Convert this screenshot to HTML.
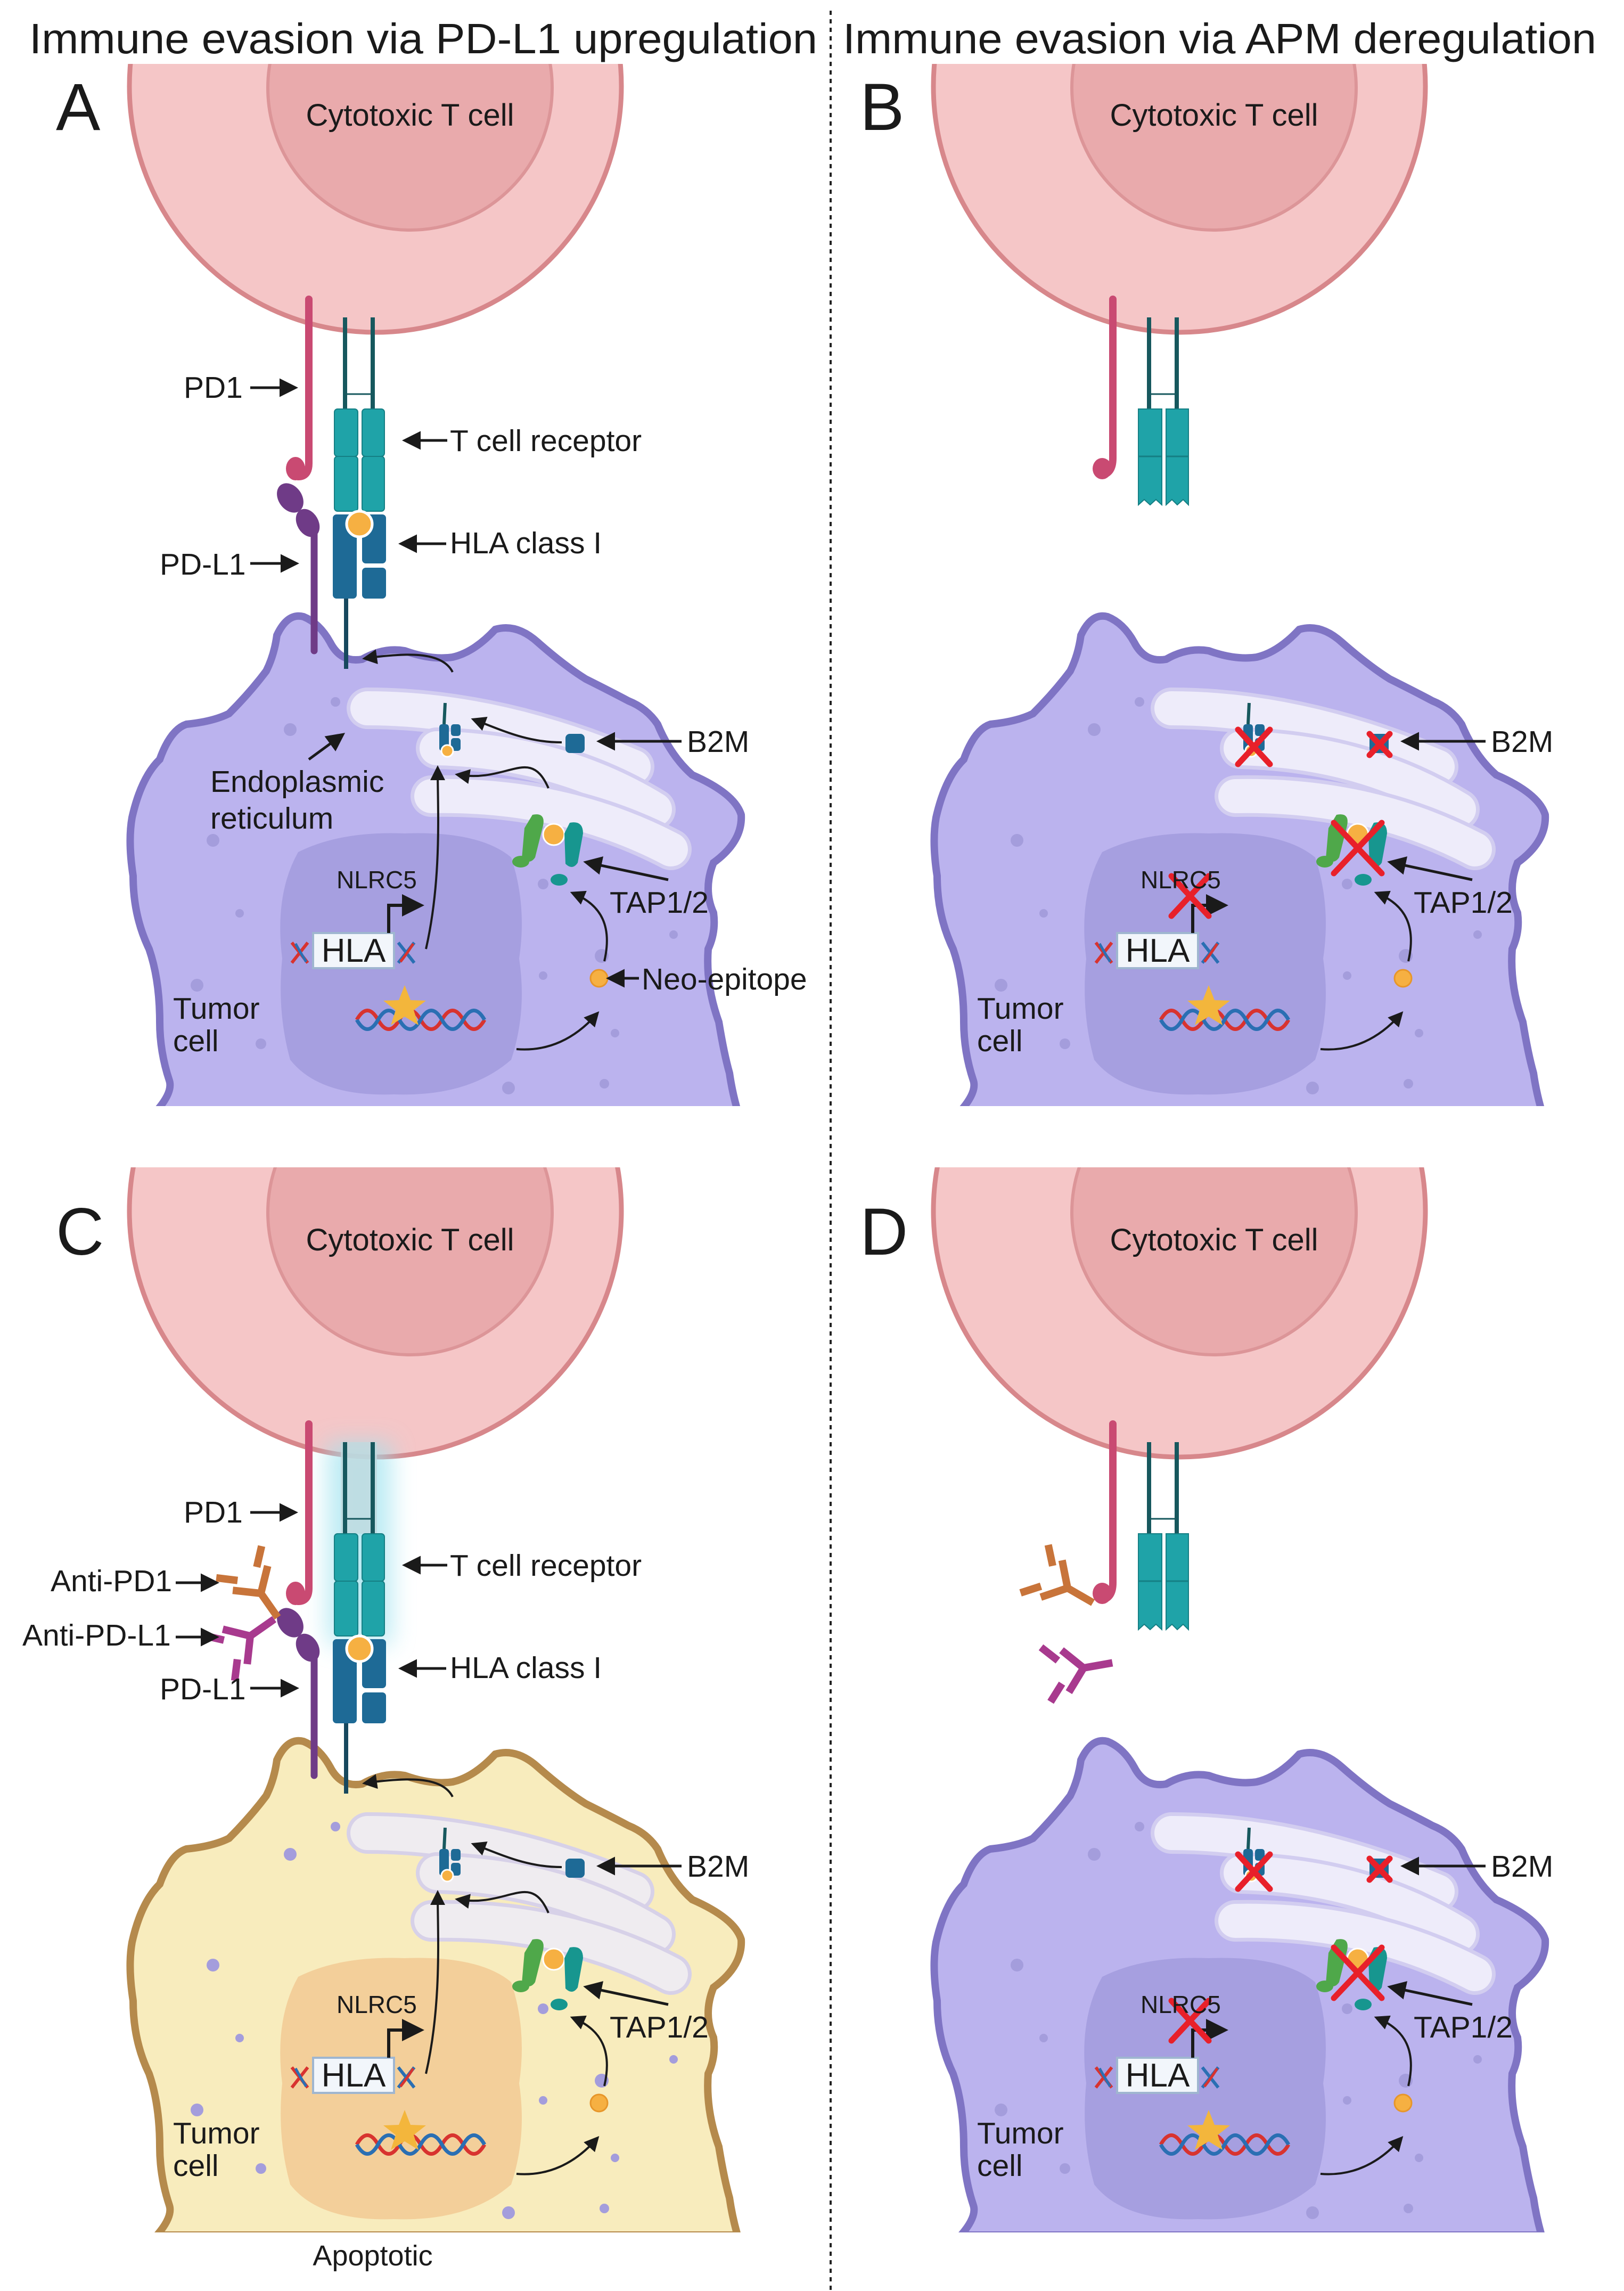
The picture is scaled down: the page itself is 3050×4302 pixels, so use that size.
<!DOCTYPE html>
<html><head><meta charset="utf-8"><style>
html,body{margin:0;padding:0;background:#fff}
svg{display:block}
text{font-family:"Liberation Sans",sans-serif;fill:#1a1a1a}
</style></head><body>
<svg width="3050" height="4302" viewBox="0 0 3050 4302" xmlns="http://www.w3.org/2000/svg">
<defs>
<marker id="ah" markerWidth="7" markerHeight="7" refX="5" refY="3.5" orient="auto" markerUnits="strokeWidth"><path d="M0,0 L7,3.5 L0,7 z" fill="#1a1a1a"/></marker>
<clipPath id="cpA"><rect x="0" y="120" width="1550" height="1957"/></clipPath>
<clipPath id="cpC"><rect x="0" y="80" width="1550" height="2000"/></clipPath>
<filter id="blur" x="-50%" y="-50%" width="200%" height="200%"><feGaussianBlur stdDeviation="22"/></filter>

<g id="tcell">
 <circle cx="705" cy="162" r="462" fill="#f5c6c7" stroke="#d7878b" stroke-width="9"/>
 <circle cx="770" cy="165" r="267" fill="#e9aaac" stroke="#dc9598" stroke-width="6"/>
</g>
<path id="cellshape" d="M520,1193 Q540,1150 570,1158 Q600,1170 620,1206 Q640,1245 680,1238 Q720,1215 760,1222 Q810,1240 850,1234 Q890,1225 930,1182 Q970,1170 1010,1206 Q1060,1250 1100,1275 Q1150,1300 1180,1316 Q1215,1330 1235,1360 Q1260,1420 1300,1455 Q1380,1490 1392,1530 Q1395,1580 1340,1620 Q1320,1670 1340,1714 Q1345,1750 1330,1782 Q1325,1850 1350,1919 Q1360,1980 1370,2015 Q1375,2050 1385,2085 L295,2085 Q325,2050 318,2029 Q300,1975 300,1919 Q300,1840 280,1782 Q250,1720 250,1645 Q240,1580 248,1535 Q265,1460 300,1426 Q320,1370 350,1360 Q400,1355 430,1340 Q470,1300 500,1260 Q515,1230 520,1193 Z"/>
<path id="nucshape" d="M560,1600 Q640,1560 760,1565 Q900,1560 960,1610 Q990,1700 975,1800 Q990,1900 960,1990 Q880,2060 740,2055 Q600,2060 545,1990 Q520,1900 530,1800 Q515,1680 560,1600 Z"/>
<g id="er">
 <g stroke-linecap="round" fill="none">
  <path d="M690,1330 Q930,1330 1190,1440" stroke="#d2cdf0" stroke-width="78"/>
  <path d="M690,1330 Q930,1330 1190,1440" stroke="#eeecfa" stroke-width="64"/>
  <path d="M820,1405 Q1050,1410 1230,1520" stroke="#d2cdf0" stroke-width="78"/>
  <path d="M820,1405 Q1050,1410 1230,1520" stroke="#eeecfa" stroke-width="64"/>
  <path d="M810,1495 Q1060,1490 1260,1595" stroke="#d2cdf0" stroke-width="78"/>
  <path d="M810,1495 Q1060,1490 1260,1595" stroke="#eeecfa" stroke-width="64"/>
 </g>
</g>
<g id="dots" fill="#a49ddc">
 <circle cx="630" cy="1318" r="9"/><circle cx="545" cy="1370" r="12"/><circle cx="400" cy="1578" r="12"/>
 <circle cx="450" cy="1715" r="8"/><circle cx="370" cy="1850" r="12"/><circle cx="490" cy="1960" r="10"/>
 <circle cx="1020" cy="1832" r="8"/><circle cx="1155" cy="1940" r="8"/><circle cx="1265" cy="1755" r="8"/>
 <circle cx="1130" cy="1795" r="13"/><circle cx="955" cy="2043" r="12"/><circle cx="1135" cy="2035" r="9"/>
 <circle cx="1020" cy="1660" r="10"/>
</g>
<g id="dna">
 <path d="M670,1915 Q690,1880 710,1915 T750,1915 T790,1915 T830,1915 T870,1915 T910,1915" stroke="#d8332f" stroke-width="7" fill="none"/>
 <path d="M670,1915 Q690,1950 710,1915 T750,1915 T790,1915 T830,1915 T870,1915 T910,1915" stroke="#2a6fb3" stroke-width="7" fill="none"/>
 <polygon points="760,1850 771,1878 800,1879 777,1897 786,1925 760,1909 734,1925 743,1897 720,1879 749,1878" fill="#f3b63c"/>
 <path d="M548,1770 L578,1808 M548,1808 L578,1770" stroke="#d8332f" stroke-width="6"/>
 <path d="M555,1772 Q565,1790 575,1806" stroke="#2a6fb3" stroke-width="5" fill="none"/>
 <path d="M748,1770 L778,1808 M748,1808 L778,1770" stroke="#2a6fb3" stroke-width="6"/>
 <path d="M752,1806 Q765,1790 776,1772" stroke="#d8332f" stroke-width="5" fill="none"/>
 <rect x="588" y="1752" width="152" height="66" fill="#f2f6fb" stroke="#9fb6d0" stroke-width="4"/>
 <path d="M730,1752 L730,1700 L785,1700" stroke="#1a1a1a" stroke-width="6" fill="none" marker-end="url(#ah)"/>
</g>
<g id="ermol">
 <rect x="825" y="1360" width="18" height="50" rx="5" fill="#1e6a96"/>
 <rect x="847" y="1360" width="18" height="22" rx="5" fill="#1e6a96"/>
 <rect x="847" y="1386" width="18" height="24" rx="5" fill="#1e6a96"/>
 <line x1="834" y1="1360" x2="836" y2="1320" stroke="#17585e" stroke-width="6"/>
 <circle cx="840" cy="1410" r="11" fill="#f6b042" stroke="#fff" stroke-width="3"/>
</g>
<rect id="b2m" x="1062" y="1378" width="36" height="36" rx="8" fill="#1e6a96"/>
<g id="tap">
 <path d="M1000,1530 Q1025,1525 1020,1550 L1005,1610 Q995,1625 980,1612 L985,1555 Z" fill="#4fa84a"/>
 <ellipse cx="978" cy="1618" rx="16" ry="11" fill="#4fa84a"/>
 <circle cx="1040" cy="1567" r="20" fill="#f6b042" stroke="#fff" stroke-width="3"/>
 <path d="M1070,1545 Q1095,1540 1095,1565 L1085,1620 Q1075,1635 1062,1622 L1060,1565 Z" fill="#17968f"/>
 <ellipse cx="1050" cy="1652" rx="16" ry="11" fill="#17968f"/>
</g>
<g id="molsA">
 <path d="M580,562 L580,870 Q580,895 560,895 Q545,890 552,872" stroke="#c94a72" stroke-width="14" fill="none" stroke-linecap="round"/>
 <ellipse cx="555" cy="880" rx="18" ry="22" fill="#c94a72"/>
 <line x1="648" y1="596" x2="648" y2="768" stroke="#17585e" stroke-width="8"/>
 <line x1="700" y1="596" x2="700" y2="768" stroke="#17585e" stroke-width="8"/>
 <line x1="648" y1="740" x2="700" y2="740" stroke="#17585e" stroke-width="3"/>
 <rect x="628" y="768" width="44" height="89" rx="6" fill="#1fa3a8" stroke="#157f84" stroke-width="2"/>
 <rect x="680" y="768" width="42" height="89" rx="6" fill="#1fa3a8" stroke="#157f84" stroke-width="2"/>
 <rect x="628" y="857" width="44" height="103" rx="6" fill="#1fa3a8" stroke="#157f84" stroke-width="2"/>
 <rect x="680" y="857" width="42" height="103" rx="6" fill="#1fa3a8" stroke="#157f84" stroke-width="2"/>
</g>
<g id="molsRest">
 <line x1="650" y1="1100" x2="650" y2="1256" stroke="#17485e" stroke-width="8"/>
 <rect x="625" y="966" width="45" height="158" rx="7" fill="#1e6a96"/>
 <rect x="680" y="966" width="45" height="92" rx="7" fill="#1e6a96"/>
 <rect x="680" y="1066" width="45" height="58" rx="7" fill="#1e6a96"/>
 <circle cx="675" cy="984" r="24" fill="#f6b042" stroke="#fff" stroke-width="5"/>
</g>
<g id="pdl1">
 <ellipse cx="545" cy="935" rx="22" ry="30" fill="#6f3b87" transform="rotate(-35 545 935)"/>
 <ellipse cx="578" cy="982" rx="20" ry="28" fill="#6f3b87" transform="rotate(-30 578 982)"/>
 <line x1="590" y1="995" x2="590" y2="1222" stroke="#6f3b87" stroke-width="13" stroke-linecap="round"/>
</g>
<g id="arrowsCell" stroke="#1a1a1a" stroke-width="4" fill="none" marker-end="url(#ah)">
 <path d="M800,1782 C830,1650 822,1520 822,1445"/>
 <path d="M1030,1480 C995,1400 955,1470 862,1455"/>
 <path d="M1055,1394 C990,1394 945,1372 892,1352"/>
 <path d="M850,1262 C830,1222 760,1226 688,1236"/>
 <path d="M1135,1805 C1150,1740 1130,1700 1078,1678"/>
 <path d="M970,1970 C1030,1975 1080,1950 1120,1905"/>
</g>
<g id="neo"><circle cx="1125" cy="1837" r="16" fill="#f6b042" stroke="#e7962a" stroke-width="3"/></g>
<g id="freeMols">
 <path d="M580,562 L580,860 Q580,890 558,892" stroke="#c94a72" stroke-width="14" fill="none" stroke-linecap="round"/>
 <ellipse cx="560" cy="880" rx="18" ry="20" fill="#c94a72"/>
 <line x1="648" y1="596" x2="648" y2="768" stroke="#17585e" stroke-width="8"/>
 <line x1="700" y1="596" x2="700" y2="768" stroke="#17585e" stroke-width="8"/>
 <line x1="648" y1="740" x2="700" y2="740" stroke="#17585e" stroke-width="3"/>
 <path d="M628,768 h44 v180 l-11,-10 l-11,10 l-11,-10 l-11,10 z" fill="#1fa3a8" stroke="#157f84" stroke-width="2"/>
 <path d="M680,768 h42 v180 l-10,-10 l-11,10 l-10,-10 l-11,10 z" fill="#1fa3a8" stroke="#157f84" stroke-width="2"/>
 <line x1="628" y1="857" x2="672" y2="857" stroke="#157f84" stroke-width="3"/>
 <line x1="680" y1="857" x2="722" y2="857" stroke="#157f84" stroke-width="3"/>
</g>
<g id="xs" stroke="#e8202a" stroke-width="11" stroke-linecap="round">
 <path d="M815,1370 L875,1435 M875,1370 L815,1435"/>
 <path d="M1062,1378 L1100,1418 M1100,1378 L1062,1418"/>
 <path d="M995,1545 L1085,1640 M1085,1545 L995,1640"/>
 <path d="M690,1645 L760,1720 M760,1645 L690,1720"/>
</g>
<g id="abPD1" fill="none" stroke="#c8743a" stroke-width="14">
 <path d="M0,0 L0,55 M0,0 L-40,-35 M0,0 L40,-35 M-22,-45 L-52,-72 M22,-45 L52,-72"/>
</g>
<g id="abPDL1" fill="none" stroke="#a83a8e" stroke-width="14">
 <path d="M0,0 L0,55 M0,0 L-40,-35 M0,0 L40,-35 M-22,-45 L-52,-72 M22,-45 L52,-72"/>
</g>
</defs>

<!-- titles -->
<text x="55" y="100" font-size="80" textLength="1480" lengthAdjust="spacingAndGlyphs">Immune evasion via PD-L1 upregulation</text>
<text x="1583" y="100" font-size="80" textLength="1415" lengthAdjust="spacingAndGlyphs">Immune evasion via APM deregulation</text>
<line x1="1560" y1="20" x2="1560" y2="4302" stroke="#222" stroke-width="4" stroke-dasharray="8 8"/>

<!-- PANEL A -->
<g clip-path="url(#cpA)">
 <use href="#tcell"/>
 <use href="#cellshape" fill="#bbb3ee" stroke="#7f74c4" stroke-width="14"/>
 <use href="#nucshape" fill="#a69fe0"/>
 <use href="#dots"/>
 <use href="#er"/>
</g>
<g>
 <text x="105" y="244" font-size="125">A</text>
 <text x="770" y="236" font-size="58" text-anchor="middle">Cytotoxic T cell</text>
 <use href="#pdl1"/><use href="#molsA"/><use href="#molsRest"/>
 <use href="#ermol"/><use href="#b2m"/><use href="#tap"/><use href="#dna"/><use href="#neo"/>
 <use href="#arrowsCell"/>
 <g font-size="57">
  <text x="345" y="747">PD1</text>
  <text x="845" y="847">T cell receptor</text>
  <text x="845" y="1039">HLA class I</text>
  <text x="300" y="1079">PD-L1</text>
  <text x="1290" y="1412">B2M</text>
  <text x="395" y="1487">Endoplasmic</text>
  <text x="395" y="1556">reticulum</text>
  <text x="1145" y="1714">TAP1/2</text>
  <text x="1205" y="1858">Neo-epitope</text>
  <text x="325" y="1913">Tumor</text>
  <text x="325" y="1974">cell</text>
 </g>
 <text x="632" y="1668" font-size="46">NLRC5</text>
 <text x="664" y="1806" font-size="62" text-anchor="middle">HLA</text>
 <g stroke="#1a1a1a" stroke-width="5" fill="none" marker-end="url(#ah)">
  <path d="M470,728 L550,728"/><path d="M840,827 L765,827"/><path d="M838,1021 L758,1021"/>
  <path d="M470,1058 L552,1058"/><path d="M1280,1392 L1130,1392"/><path d="M580,1426 L640,1382"/>
  <path d="M1255,1652 L1105,1620"/><path d="M1200,1837 L1148,1837"/>
 </g>
</g>

<!-- PANEL B -->
<g transform="translate(1510,0)">
 <g clip-path="url(#cpA)">
  <use href="#tcell"/>
  <use href="#cellshape" fill="#bbb3ee" stroke="#7f74c4" stroke-width="14"/>
  <use href="#nucshape" fill="#a69fe0"/>
  <use href="#dots"/>
  <use href="#er"/>
 </g>
 <text x="105" y="244" font-size="125">B</text>
 <text x="770" y="236" font-size="58" text-anchor="middle">Cytotoxic T cell</text>
 <use href="#freeMols"/>
 <use href="#ermol"/><use href="#b2m"/><use href="#tap"/><use href="#dna"/><use href="#neo"/>
 <g stroke="#1a1a1a" stroke-width="4" fill="none" marker-end="url(#ah)">
  <path d="M1135,1805 C1150,1740 1130,1700 1078,1678"/>
  <path d="M970,1970 C1030,1975 1080,1950 1120,1905"/>
 </g>
 <use href="#xs"/>
 <g font-size="57">
  <text x="1290" y="1412">B2M</text>
  <text x="1145" y="1714">TAP1/2</text>
  <text x="325" y="1913">Tumor</text>
  <text x="325" y="1974">cell</text>
 </g>
 <text x="632" y="1668" font-size="46">NLRC5</text>
 <text x="664" y="1806" font-size="62" text-anchor="middle">HLA</text>
 <g stroke="#1a1a1a" stroke-width="5" fill="none" marker-end="url(#ah)">
  <path d="M1280,1392 L1130,1392"/><path d="M1255,1652 L1105,1620"/>
 </g>
</g>

<!-- PANEL C -->
<g transform="translate(0,2112)">
 <g clip-path="url(#cpC)">
  <use href="#tcell"/>
  <use href="#cellshape" fill="#f8ecbd" stroke="#b58a4c" stroke-width="14"/>
  <use href="#nucshape" fill="#f3cf9a"/>
  <g fill="#f3d79e"><use href="#dots"/></g>
  <g opacity="0.85"><use href="#er"/></g>
 </g>
 <rect x="615" y="596" width="120" height="380" fill="#9fe3ef" opacity="0.7" filter="url(#blur)"/>
 <rect x="640" y="596" width="68" height="172" fill="#bfd9df" opacity="0.8"/>
 <text x="105" y="244" font-size="125">C</text>
 <text x="770" y="236" font-size="58" text-anchor="middle">Cytotoxic T cell</text>
 <use href="#pdl1"/><use href="#molsA"/><use href="#molsRest"/>
 <use href="#ermol"/><use href="#b2m"/><use href="#tap"/><use href="#dna"/><use href="#neo"/>
 <use href="#arrowsCell"/>
 <use href="#abPD1" transform="translate(490,880) rotate(-35)"/>
 <use href="#abPDL1" transform="translate(470,960) rotate(-125)"/>
 <g font-size="57">
  <text x="345" y="747">PD1</text>
  <text x="95" y="876">Anti-PD1</text>
  <text x="42" y="978">Anti-PD-L1</text>
  <text x="845" y="847">T cell receptor</text>
  <text x="845" y="1039">HLA class I</text>
  <text x="300" y="1079">PD-L1</text>
  <text x="1290" y="1412">B2M</text>
  <text x="1145" y="1714">TAP1/2</text>
  <text x="325" y="1913">Tumor</text>
  <text x="325" y="1974">cell</text>
 </g>
 <text x="632" y="1668" font-size="46">NLRC5</text>
 <text x="664" y="1806" font-size="62" text-anchor="middle">HLA</text>
 <text x="700" y="2142" font-size="54" text-anchor="middle">Apoptotic</text>
 <g stroke="#1a1a1a" stroke-width="5" fill="none" marker-end="url(#ah)">
  <path d="M470,728 L550,728"/><path d="M840,827 L765,827"/><path d="M838,1021 L758,1021"/>
  <path d="M470,1058 L552,1058"/><path d="M1280,1392 L1130,1392"/>
  <path d="M330,860 L402,860"/><path d="M330,962 L402,962"/>
  <path d="M1255,1652 L1105,1620"/>
 </g>
</g>

<!-- PANEL D -->
<g transform="translate(1510,2112)">
 <g clip-path="url(#cpC)">
  <use href="#tcell"/>
  <use href="#cellshape" fill="#bbb3ee" stroke="#7f74c4" stroke-width="14"/>
  <use href="#nucshape" fill="#a69fe0"/>
  <use href="#dots"/>
  <use href="#er"/>
 </g>
 <text x="105" y="244" font-size="125">D</text>
 <text x="770" y="236" font-size="58" text-anchor="middle">Cytotoxic T cell</text>
 <use href="#freeMols"/>
 <use href="#abPD1" transform="translate(495,870) rotate(-60)"/>
 <use href="#abPDL1" transform="translate(525,1020) rotate(-100)"/>
 <use href="#ermol"/><use href="#b2m"/><use href="#tap"/><use href="#dna"/><use href="#neo"/>
 <g stroke="#1a1a1a" stroke-width="4" fill="none" marker-end="url(#ah)">
  <path d="M1135,1805 C1150,1740 1130,1700 1078,1678"/>
  <path d="M970,1970 C1030,1975 1080,1950 1120,1905"/>
 </g>
 <use href="#xs"/>
 <g font-size="57">
  <text x="1290" y="1412">B2M</text>
  <text x="1145" y="1714">TAP1/2</text>
  <text x="325" y="1913">Tumor</text>
  <text x="325" y="1974">cell</text>
 </g>
 <text x="632" y="1668" font-size="46">NLRC5</text>
 <text x="664" y="1806" font-size="62" text-anchor="middle">HLA</text>
 <g stroke="#1a1a1a" stroke-width="5" fill="none" marker-end="url(#ah)">
  <path d="M1280,1392 L1130,1392"/><path d="M1255,1652 L1105,1620"/>
 </g>
</g>
</svg>
</body></html>
